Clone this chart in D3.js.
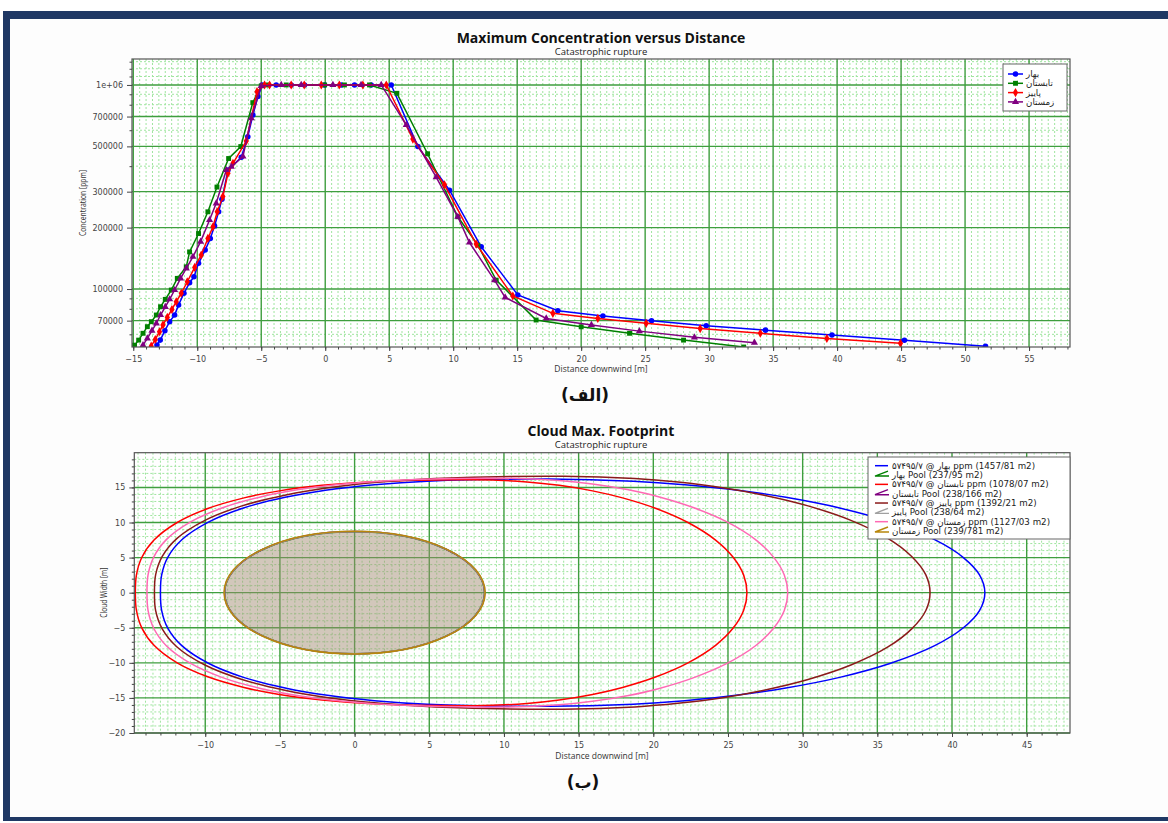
<!DOCTYPE html>
<html lang="en">
<head>
<meta charset="utf-8">
<title>Maximum Concentration / Cloud Max. Footprint</title>
<script src="https://d3js.org/d3.v7.min.js"></script>
<style>
  body{margin:0;background:#fff;}
  text{font-family:"DejaVu Sans",sans-serif;}
  .tick text{font-size:8px;fill:#444;}
  .tick line{stroke:#444;}
  .title{font-family:"Open Sans",sans-serif;font-weight:bold;font-size:14px;fill:#111;}
  .sub{font-family:"Open Sans",sans-serif;font-size:9.5px;fill:#222;}
  .axt{font-family:"Open Sans",sans-serif;font-size:8.5px;fill:#333;}
  .cap{font-family:"DejaVu Sans",sans-serif;font-weight:bold;font-size:17px;fill:#111;}
  .leg{font-size:8.7px;fill:#222;}
</style>
</head>
<body>
<script>

// ---- data: maximum concentration [ppm] vs distance [m] ----
var seasons = ["بهار", "تابستان", "پاییز", "زمستان"];
var concColors = ["#0000ff", "#008000", "#ff0000", "#800080"];

var springX = [-13.15,-12.89,-12.53,-12.16,-11.77,-11.46,-11.04,-10.6,-10.26,-9.9,-9.38,-8.98,-8.65,-8.33,-8.07,-7.6,-6.56,-6.05,-5.65,-5.26,-4.92,-3.83,-2.66,-1.62,-0.05,1.25,2.29,3.59,5.16,7.24,9.71,12.19,15.05,18.18,21.7,25.5,29.77,34.4,39.6,45.26,51.6];
var springY = [53200,56200,62500,69200,74600,83600,95300,107400,114800,133700,155200,177000,203700,239300,275400,383000,442000,558000,713000,877000,1000000,1000000,1000000,1000000,1000000,1000000,1000000,1000000,1000000,499000,305000,161000,93600,78300,73800,70000,66100,62900,59500,56100,52500];

var summerX = [-14.9,-14.58,-14.24,-13.9,-13.59,-13.2,-12.87,-12.5,-12.03,-11.56,-10.86,-10.6,-9.9,-9.17,-8.46,-7.55,-6.6,-5.66,-5.0,-4.47,-3.05,-0.05,1.5,3.46,5.6,8.0,10.36,11.93,13.36,16.48,20.0,23.78,28.0,32.7];
var summerY = [53100,56200,60700,65400,69200,74600,81900,89000,98900,112800,128500,152000,187000,239000,316000,436000,499000,819000,990000,1000000,1000000,1000000,1000000,1000000,910000,460000,226000,164000,110600,70500,65300,60700,56200,52000];

var autumnX = [-13.6,-13.28,-12.95,-12.68,-12.34,-11.98,-11.64,-11.25,-10.78,-10.2,-9.69,-9.17,-8.77,-8.44,-8.0,-7.6,-7.21,-6.17,-5.33,-4.74,-4.35,-2.66,-1.64,-0.31,1.1,2.94,4.77,6.85,9.32,11.8,14.66,17.79,21.3,25.08,29.3,34.0,39.2,44.95];
var autumnY = [52500,56600,61800,66700,72600,79400,86700,95300,108600,127600,146900,177000,201800,239300,283800,369000,413000,531000,927000,1000000,1000000,1000000,1000000,1000000,1000000,1000000,1000000,543000,324000,166000,92500,76000,71800,67900,64000,60700,57300,54200];

var winterX = [-14.24,-13.9,-13.54,-13.2,-12.87,-12.5,-12.16,-11.77,-11.3,-10.86,-10.34,-9.74,-9.04,-8.52,-7.73,-7.34,-6.43,-5.78,-5.0,-3.44,-1.875,0.6,2.8,4.375,6.33,8.67,10.36,11.27,13.23,14.06,17.27,20.8,24.55,28.85,33.54];
var winterY = [53100,57300,62500,67900,74600,81800,89100,98900,112800,126200,143900,170600,217800,263000,383000,398000,446000,687000,990000,1000000,1000000,1000000,1000000,1000000,637000,353000,226000,169000,110600,91000,71800,66700,62200,58000,54600];

var concX = [springX, summerX, autumnX, winterX];
var concY = [springY, summerY, autumnY, winterY];

var concTicksX = [-15,-10,-5,0,5,10,15,20,25,30,35,40,45,50,55];
var concTicksY = [70000,100000,200000,300000,500000,700000,1000000];
var concMinorY = [60000,80000,90000,400000,600000,800000,900000,1100000,1200000,1300000];

// ---- data: cloud footprint, upper half-width [m] vs distance [m] (lower half mirrors it) ----
var footX_spring = [-13.0,-12.92,-12.51,-11.57,-9.79,-7.44,-4.65,-1.95,1.33,4.86,13.0,18.66,22.11,25.67,28.88,32.48,35.89,38.84,40.74,41.85,42.2];
var footW_spring = [0,2.51,5.04,7.55,10.06,12.07,13.59,14.6,15.39,15.89,16.2,15.89,15.39,14.6,13.59,12.07,10.06,7.55,5.04,2.51,0];
var footX_summer = [-14.68,-14.61,-14.25,-13.43,-11.88,-9.83,-7.4,-5.04,-2.18,0.9,8.0,11.54,13.7,15.93,17.94,20.19,22.32,24.17,25.36,26.05,26.27];
var footW_summer = [0,2.5,5.01,7.5,10.0,11.99,13.51,14.51,15.3,15.79,16.1,15.79,15.3,14.51,13.51,11.99,10.0,7.5,5.01,2.5,0];
var footX_autumn = [-13.4,-13.32,-12.88,-11.89,-10.02,-7.54,-4.6,-1.76,1.7,5.42,14.0,18.76,21.65,24.65,27.34,30.36,33.23,35.71,37.3,38.24,38.53];
var footW_autumn = [0,2.57,5.16,7.74,10.31,12.37,13.93,14.96,15.77,16.28,16.6,16.28,15.77,14.96,13.93,12.37,10.31,7.74,5.16,2.57,0];
var footX_winter = [-13.9,-13.83,-13.45,-12.59,-10.95,-8.79,-6.23,-3.74,-0.73,2.52,10.0,13.69,15.93,18.25,20.34,22.67,24.9,26.82,28.05,28.77,29.0];
var footW_winter = [0,2.53,5.07,7.6,10.12,12.14,13.68,14.69,15.49,15.99,16.3,15.99,15.49,14.69,13.68,12.14,10.12,7.6,5.07,2.53,0];

var footX = [footX_spring, footX_summer, footX_autumn, footX_winter];
var footW = [footW_spring, footW_summer, footW_autumn, footW_winter];
var footColors = ["#0000ff", "#ff0000", "#8b1a1a", "#ff69b4"];
var poolColors = ["#008000", "#800080", "#a0a0a0", "#b8860b"];
var poolR = [8.70, 8.71, 8.72, 8.74];

var footLabels = [
  "۵۷۴۹۵/۷ @ بهار ppm (1457/81 m2)", "بهار Pool (237/95 m2)",
  "۵۷۴۹۵/۷ @ تابستان ppm (1078/07 m2)", "تابستان Pool (238/166 m2)",
  "۵۷۴۹۵/۷ @ پاییز ppm (1392/21 m2)", "پاییز Pool (238/64 m2)",
  "۵۷۴۹۵/۷ @ زمستان ppm (1127/03 m2)", "زمستان Pool (239/781 m2)"
];
var footTicksX = [-10,-5,0,5,10,15,20,25,30,35,40,45];
var footTicksY = [-20,-15,-10,-5,0,5,10,15];

var W = 1168, H = 823;
var svg = d3.select("body").append("svg").attr("width", W).attr("height", H);

// page frame
svg.append("rect").attr("width", W).attr("height", H).attr("fill", "#fff");
svg.append("rect").attr("x", 3).attr("y", 11).attr("width", W - 3).attr("height", 810).attr("fill", "#1f3864");
svg.append("rect").attr("x", 10).attr("y", 19).attr("width", W - 10).attr("height", 798).attr("fill", "#fdfdfd");

var majorGrid = "#3f9e3f", minorGrid = "#9fe59f";

function drawGrid(g, box, xs, ys, xMajor, xMinor, yMajor, yMinor) {
  g.append("rect").attr("x", box.left).attr("y", box.top)
    .attr("width", box.right - box.left).attr("height", box.bottom - box.top).attr("fill", "#fff");
  g.selectAll(".vmin").data(xMinor).enter().append("line")
    .attr("x1", xs).attr("x2", xs).attr("y1", box.top).attr("y2", box.bottom)
    .attr("stroke", minorGrid).attr("stroke-dasharray", "2,2").attr("stroke-width", 1);
  g.selectAll(".hmin").data(yMinor).enter().append("line")
    .attr("y1", ys).attr("y2", ys).attr("x1", box.left).attr("x2", box.right)
    .attr("stroke", minorGrid).attr("stroke-dasharray", "2,2").attr("stroke-width", 1);
  g.selectAll(".vmaj").data(xMajor).enter().append("line")
    .attr("x1", xs).attr("x2", xs).attr("y1", box.top).attr("y2", box.bottom)
    .attr("stroke", majorGrid).attr("stroke-width", 1.4);
  g.selectAll(".hmaj").data(yMajor).enter().append("line")
    .attr("y1", ys).attr("y2", ys).attr("x1", box.left).attr("x2", box.right)
    .attr("stroke", majorGrid).attr("stroke-width", 1.4);
}

function frame(g, box) {
  g.append("rect").attr("x", box.left).attr("y", box.top)
    .attr("width", box.right - box.left).attr("height", box.bottom - box.top)
    .attr("fill", "none").attr("stroke", "#555").attr("stroke-width", 1.2);
}

// ================= chart 1 =================
var c1 = {left: 132, right: 1070, top: 59, bottom: 347};
var x1 = d3.scaleLinear().domain([-15.1, 58.2]).range([c1.left, c1.right]);
var y1 = d3.scaleLog().domain([52000, 1340000]).range([c1.bottom, c1.top]);

var g1 = svg.append("g");
var minorX1 = d3.range(-15, 58.3, 0.5).filter(function(d){ return d % 5 !== 0; });
drawGrid(g1, c1, function(d){ return x1(d); }, function(d){ return y1(d); },
  concTicksX, minorX1, concTicksY, concMinorY);

g1.append("clipPath").attr("id", "clip1").append("rect")
  .attr("x", c1.left).attr("y", c1.top).attr("width", c1.right - c1.left).attr("height", c1.bottom - c1.top);

var line1 = d3.line().x(function(d){ return x1(d[0]); }).y(function(d){ return y1(d[1]); });
var symbols = [d3.symbolCircle, d3.symbolSquare, d3.symbolDiamond, d3.symbolTriangle];
var symSize = [24, 24, 24, 22];

var series = g1.append("g").attr("clip-path", "url(#clip1)");
concX.forEach(function(xs, i) {
  var pts = xs.map(function(x, j){ return [x, concY[i][j]]; });
  series.append("path").datum(pts).attr("d", line1)
    .attr("fill", "none").attr("stroke", concColors[i]).attr("stroke-width", 1.5);
  series.selectAll(".m" + i).data(pts).enter().append("path")
    .attr("transform", function(d){ return "translate(" + x1(d[0]) + "," + y1(d[1]) + ")"; })
    .attr("d", d3.symbol().type(symbols[i]).size(symSize[i]))
    .attr("fill", concColors[i]);
});

frame(g1, c1);

// axes
g1.append("g").attr("transform", "translate(0," + c1.bottom + ")")
  .call(d3.axisBottom(x1).tickValues(d3.range(-15, 58.5, 1)).tickSize(2.5).tickFormat(""))
  .call(function(a){ a.select(".domain").remove(); });
g1.append("g").attr("transform", "translate(0," + c1.bottom + ")")
  .call(d3.axisBottom(x1).tickValues(concTicksX).tickSize(4).tickPadding(5))
  .call(function(a){ a.select(".domain").remove(); });
g1.append("g").attr("transform", "translate(" + c1.left + ",0)")
  .call(d3.axisLeft(y1).tickValues(concMinorY).tickSize(2.5).tickFormat(""))
  .call(function(a){ a.select(".domain").remove(); });
g1.append("g").attr("transform", "translate(" + c1.left + ",0)")
  .call(d3.axisLeft(y1).tickValues(concTicksY).tickSize(5).tickPadding(4)
    .tickFormat(function(d){ return d === 1000000 ? "1e+06" : d; }))
  .call(function(a){ a.select(".domain").remove(); });

svg.append("text").attr("class", "title").attr("x", 601).attr("y", 43)
  .attr("text-anchor", "middle").text("Maximum Concentration versus Distance");
svg.append("text").attr("class", "sub").attr("x", 601).attr("y", 55)
  .attr("text-anchor", "middle").text("Catastrophic rupture");
svg.append("text").attr("class", "axt").attr("x", 601).attr("y", 372)
  .attr("text-anchor", "middle").text("Distance downwind [m]");
svg.append("text").attr("class", "axt")
  .attr("transform", "translate(86," + ((c1.top + c1.bottom) / 2) + ") rotate(-90)")
  .attr("text-anchor", "middle").attr("textLength", 66).attr("lengthAdjust", "spacingAndGlyphs")
  .text("Concentration [ppm]");
svg.append("text").attr("class", "cap").attr("x", 585).attr("y", 401)
  .attr("text-anchor", "middle").text("(الف)");

// legend 1
var lg1 = svg.append("g");
lg1.append("rect").attr("x", 1003).attr("y", 64).attr("width", 64).attr("height", 47)
  .attr("fill", "#fff").attr("stroke", "#666");
seasons.forEach(function(s, i) {
  var yy = 74 + i * 9.3;
  lg1.append("line").attr("x1", 1008).attr("x2", 1023).attr("y1", yy).attr("y2", yy)
    .attr("stroke", concColors[i]).attr("stroke-width", 1.5);
  lg1.append("path").attr("transform", "translate(1015.5," + yy + ")")
    .attr("d", d3.symbol().type(symbols[i]).size(symSize[i])).attr("fill", concColors[i]);
  lg1.append("text").attr("class", "leg").attr("x", 1026).attr("y", yy + 3).text(s);
});

// ================= chart 2 =================
var c2 = {left: 134.3, right: 1070, top: 452.7, bottom: 733};
var x2 = d3.scaleLinear().domain([-14.75, 47.9]).range([c2.left, c2.right]);
var y2 = d3.scaleLinear().domain([-20, 19.95]).range([c2.bottom, c2.top]);

var g2 = svg.append("g");
var minorX2 = d3.range(-14.5, 48, 0.5).filter(function(d){ return d % 5 !== 0; });
var minorY2 = d3.range(-19, 20, 1).filter(function(d){ return d % 5 !== 0; });
drawGrid(g2, c2, function(d){ return x2(d); }, function(d){ return y2(d); },
  d3.range(-10, 46, 5), minorX2, footTicksY, minorY2);

g2.append("clipPath").attr("id", "clip2").append("rect")
  .attr("x", c2.left).attr("y", c2.top).attr("width", c2.right - c2.left).attr("height", c2.bottom - c2.top);
var marks2 = g2.append("g").attr("clip-path", "url(#clip2)");

var line2 = d3.line().x(function(d){ return x2(d[0]); }).y(function(d){ return y2(d[1]); })
  .curve(d3.curveCatmullRomClosed.alpha(0.5));

footX.forEach(function(xs, i) {
  var upper = xs.map(function(x, j){ return [x, footW[i][j]]; });
  var lower = upper.slice(1, -1).reverse().map(function(p){ return [p[0], -p[1]]; });
  marks2.append("path").datum(upper.concat(lower)).attr("d", line2)
    .attr("fill", "none").attr("stroke", footColors[i]).attr("stroke-width", 1.5);
  marks2.append("ellipse")
    .attr("cx", x2(0)).attr("cy", y2(0))
    .attr("rx", x2(poolR[i]) - x2(0)).attr("ry", y2(0) - y2(poolR[i]))
    .attr("fill", "#a08a74").attr("fill-opacity", 0.15)
    .attr("stroke", poolColors[i]).attr("stroke-width", 1.5);
});

frame(g2, c2);

g2.append("g").attr("transform", "translate(0," + c2.bottom + ")")
  .call(d3.axisBottom(x2).tickValues(d3.range(-14, 48, 1)).tickSize(2.5).tickFormat(""))
  .call(function(a){ a.select(".domain").remove(); });
g2.append("g").attr("transform", "translate(0," + c2.bottom + ")")
  .call(d3.axisBottom(x2).tickValues(footTicksX).tickSize(4).tickPadding(5))
  .call(function(a){ a.select(".domain").remove(); });
g2.append("g").attr("transform", "translate(" + c2.left + ",0)")
  .call(d3.axisLeft(y2).tickValues(d3.range(-20, 20, 1)).tickSize(2.5).tickFormat(""))
  .call(function(a){ a.select(".domain").remove(); });
g2.append("g").attr("transform", "translate(" + c2.left + ",0)")
  .call(d3.axisLeft(y2).tickValues(footTicksY).tickSize(5).tickPadding(4))
  .call(function(a){ a.select(".domain").remove(); });

svg.append("text").attr("class", "title").attr("x", 601).attr("y", 436)
  .attr("text-anchor", "middle").text("Cloud Max. Footprint");
svg.append("text").attr("class", "sub").attr("x", 601).attr("y", 448)
  .attr("text-anchor", "middle").text("Catastrophic rupture");
svg.append("text").attr("class", "axt").attr("x", 602).attr("y", 759)
  .attr("text-anchor", "middle").text("Distance downwind [m]");
svg.append("text").attr("class", "axt")
  .attr("transform", "translate(107," + y2(0) + ") rotate(-90)")
  .attr("text-anchor", "middle").attr("textLength", 50).attr("lengthAdjust", "spacingAndGlyphs")
  .text("Cloud Width [m]");
svg.append("text").attr("class", "cap").attr("x", 583).attr("y", 788)
  .attr("text-anchor", "middle").text("(ب)");

// legend 2
var lg2 = svg.append("g");
lg2.append("rect").attr("x", 868).attr("y", 457).attr("width", 202).attr("height", 82)
  .attr("fill", "#fff").attr("stroke", "#666");
var legColors = [];
footColors.forEach(function(c, i){ legColors.push(c, poolColors[i]); });
footLabels.forEach(function(lab, i) {
  var yy = 465.7 + i * 9.33;
  if (i % 2 === 0) {
    lg2.append("line").attr("x1", 875).attr("x2", 888).attr("y1", yy).attr("y2", yy)
      .attr("stroke", legColors[i]).attr("stroke-width", 1.5);
  } else {
    lg2.append("path").attr("d", "M888," + (yy - 4) + "L875," + (yy + 1) + "L889," + (yy + 1))
      .attr("fill", "none").attr("stroke", legColors[i]).attr("stroke-width", 1.4);
  }
  lg2.append("text").attr("class", "leg").attr("x", 892).attr("y", yy + 3).text(lab);
});

</script>
</body>
</html>
